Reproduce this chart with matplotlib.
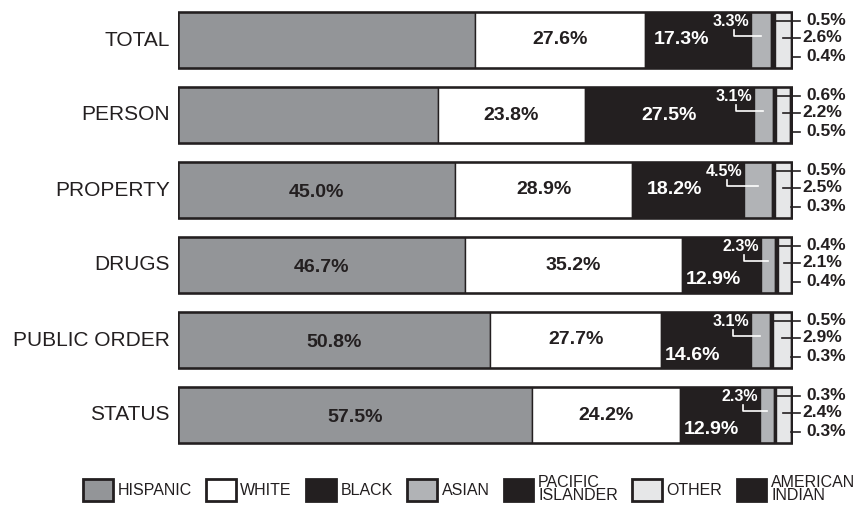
import matplotlib
matplotlib.use("Agg")
import matplotlib.pyplot as plt
from matplotlib.patches import Patch
import numpy as np

# data (percent of each offense category)
categories = ["TOTAL", "PERSON", "PROPERTY", "DRUGS", "PUBLIC ORDER", "STATUS"]
hispanic = [48.3, 42.3, 45.0, 46.7, 50.8, 57.5]
white = [27.6, 23.8, 28.9, 35.2, 27.7, 24.2]
black = [17.3, 27.5, 18.2, 12.9, 14.6, 12.9]
asian = [3.3, 3.1, 4.5, 2.3, 3.1, 2.3]
pacific = [0.5, 0.6, 0.5, 0.4, 0.5, 0.3]
other = [2.6, 2.2, 2.5, 2.1, 2.9, 2.4]
am_indian = [0.4, 0.5, 0.3, 0.4, 0.3, 0.3]
show_hispanic_label = [False, False, True, True, True, True]

legend_labels = ["HISPANIC", "WHITE", "BLACK", "ASIAN", "PACIFIC\nISLANDER", "OTHER", "AMERICAN\nINDIAN"]

DARK = "#231f20"
colors = ["#939598", "#ffffff", DARK, "#b1b3b6", DARK, "#e6e7e8", DARK]

plt.rcParams["font.family"] = ["Liberation Sans", "DejaVu Sans"]
val_size = 14

series = [hispanic, white, black, asian, pacific, other, am_indian]
data = np.array(series)
lefts = np.vstack([np.zeros(len(categories)), np.cumsum(data, axis=0)[:-1]])
y = np.arange(len(categories))

fig = plt.figure(figsize=(8.56, 5.09), dpi=100)
ax = fig.add_axes([178 / 856, 1 - 452.5 / 509, 615 / 856, 450 / 509])
ax.set_xlim(0, 100)
ax.set_ylim(5.5, -0.5)
ax.axis("off")

for j, vals in enumerate(series):
    ax.barh(y, vals, left=lefts[j], height=0.75, color=colors[j],
            edgecolor=DARK, linewidth=1.0)
# outer outline
ax.barh(y, data.sum(axis=0), height=0.75, fill=False, edgecolor=DARK, linewidth=1.8)

for i, cat in enumerate(categories):
    ax.text(-1.3, i, cat, ha="right", va="center", fontsize=15, color=DARK)

    # hispanic
    if show_hispanic_label[i]:
        ax.text(hispanic[i] / 2, i + 0.03, f"{hispanic[i]:.1f}%", ha="center", va="center",
                fontsize=val_size, fontweight="bold", color=DARK)
    # white
    wx = lefts[1][i] + white[i] / 2
    ax.text(wx, i, f"{white[i]:.1f}%", ha="center", va="center",
            fontsize=val_size, fontweight="bold", color=DARK)
    # black
    b0 = lefts[2][i]
    b1 = b0 + black[i]
    if black[i] < 16:
        ax.text(b0 + 0.6, i + 0.2, f"{black[i]:.1f}%", ha="left", va="center",
                fontsize=val_size, fontweight="bold", color="white")
    else:
        bx = min(b0 + black[i] / 2, b1 - 11.4)
        ax.text(bx, i, f"{black[i]:.1f}%", ha="center", va="center",
                fontsize=val_size, fontweight="bold", color="white")

    # asian label with leader
    a0 = lefts[3][i]
    ax.text(a0 - 0.3, i - 0.25, f"{asian[i]:.1f}%", ha="right", va="center",
            fontsize=11.5, fontweight="bold", color="white")
    tx = a0 - 2.8
    ax.plot([tx, tx, a0 + asian[i] / 2], [i - 0.14, i - 0.06, i - 0.06],
            color="white", lw=1.2)

    # right side small labels
    p_mid = lefts[4][i] + pacific[i] / 2
    o_mid = lefts[5][i] + other[i] / 2
    ai_mid = lefts[6][i] + am_indian[i] / 2
    ax.plot([p_mid, 101.2], [i - 0.26, i - 0.26], color=DARK, lw=1.2, clip_on=False)
    ax.plot([o_mid, 101.2], [i - 0.03, i - 0.03], color=DARK, lw=1.2, clip_on=False)
    ax.plot([ai_mid, 101.2], [i + 0.22, i + 0.22], color=DARK, lw=1.2, clip_on=False)
    ax.text(102.2, i - 0.26, f"{pacific[i]:.1f}%", ha="left", va="center",
            fontsize=12.5, fontweight="bold", color=DARK)
    ax.text(101.6, i - 0.03, f"{other[i]:.1f}%", ha="left", va="center",
            fontsize=12.5, fontweight="bold", color=DARK)
    ax.text(102.2, i + 0.22, f"{am_indian[i]:.1f}%", ha="left", va="center",
            fontsize=12.5, fontweight="bold", color=DARK)

handles = [Patch(facecolor=c, edgecolor=DARK, linewidth=2) for c in colors]
leg = fig.legend(handles, legend_labels, loc="center", bbox_to_anchor=(0.548, 0.039),
                 ncol=7, frameon=False, handlelength=1.85, handleheight=1.8,
                 handletextpad=0.3, columnspacing=0.9,
                 prop={"size": 11.5})
for t in leg.get_texts():
    t.set_linespacing(0.85)
    t.set_color(DARK)

fig.savefig("out.png", dpi=100)
